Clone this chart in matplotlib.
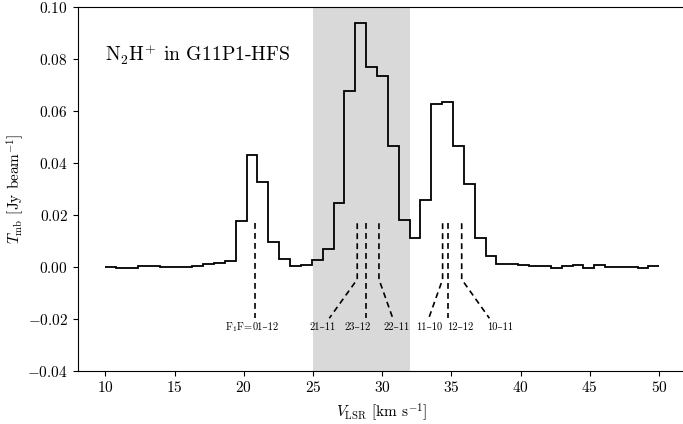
import numpy as np
import matplotlib
matplotlib.use("Agg")
import matplotlib.pyplot as plt

# ---- data -------------------------------------------------------------
# channel edges (km/s)
edges = [10.00, 10.79, 11.57, 12.36, 13.14, 13.93, 14.71, 15.50, 16.28, 17.07,
         17.85, 18.64, 19.42, 20.21, 20.99, 21.78, 22.56, 23.35, 24.13, 24.92,
         25.70, 26.49, 27.27, 28.06, 28.84, 29.63, 30.41, 31.20, 31.98, 32.77,
         33.55, 34.34, 35.12, 35.91, 36.69, 37.48, 38.26, 39.05, 39.83, 40.62,
         41.40, 42.19, 42.97, 43.76, 44.54, 45.33, 46.11, 46.90, 47.68, 48.47,
         49.25, 50.04]
# brightness per channel
tmb = [0.0000, -0.0004, -0.0004, 0.0003, 0.0003, -0.0002, -0.0002, -0.0002, 0.0003, 0.0011,
       0.0014, 0.0024, 0.0178, 0.0430, 0.0328, 0.0095, 0.0030, 0.0005, 0.0007, 0.0025,
       0.0069, 0.0245, 0.0679, 0.0938, 0.0771, 0.0737, 0.0467, 0.0180, 0.0112, 0.0259,
       0.0626, 0.0636, 0.0466, 0.0320, 0.0112, 0.0042, 0.0011, 0.0010, 0.0008, 0.0005,
       0.0004, -0.0004, 0.0002, 0.0008, -0.0004, 0.0006, 0.0001, 0.0000, -0.0002, -0.0004,
       0.0005]

# shaded velocity range
shade_range = (25.0, 32.0)

# hyperfine components: velocity of marker, end of the slanted leg, label, label position
hfs_vel = [20.81, 28.20, 28.81, 29.77, 34.37, 34.79, 35.75]
hfs_end = [20.81, 26.18, 28.81, 30.77, 33.37, 34.79, 37.75]
hfs_lab = ["01–12", "21–11", "23–12", "22–11", "11–10", "12–12", "10–11"]
hfs_labx = [20.61, 25.71, 28.21, 31.06, 33.38, 35.61, 38.54]
hfs_prefix = r"F$_1$F="

title = r"N$_2$H$^{+}$ in G11P1-HFS"

# ---- style ------------------------------------------------------------
plt.rcParams["font.family"] = ["cmr10", "DejaVu Serif"]
plt.rcParams["mathtext.fontset"] = "cm"
plt.rcParams["axes.formatter.use_mathtext"] = True
plt.rcParams["axes.unicode_minus"] = True
plt.rcParams["font.size"] = 11

fig = plt.figure(figsize=(6.83, 4.24), dpi=100)
ax = fig.add_axes([0.1138, 0.1257, 0.8914, 0.8571])

ax.axvspan(shade_range[0], shade_range[1], color="#d9d9d9", lw=0, zorder=0)
ax.stairs(tmb, edges, baseline=None, color="black", lw=1.3, zorder=3)

y_top, y_bend, y_bot = 0.0168, -0.0048, -0.0198
for i, (v, ve, lab, lx) in enumerate(zip(hfs_vel, hfs_end, hfs_lab, hfs_labx)):
    ax.plot([v, v, ve], [y_top, y_bend, y_bot], color="black", lw=1.2,
            ls=(0, (3.5, 2.5)), zorder=4)
    if i == 0:
        ax.text(lx + 0.05, -0.0234, lab, ha="left", va="center", fontsize=7.5)
        ax.text(lx + 0.05, -0.0234, hfs_prefix, ha="right", va="center", fontsize=7.5)
    else:
        ax.text(lx, -0.0234, lab, ha="center", va="center", fontsize=7.5)

ax.text(0.045, 0.903, title, transform=ax.transAxes, fontsize=14.2,
        ha="left", va="top")

ax.set_xlim(8, 52)
ax.set_ylim(-0.04, 0.10)
ax.set_xticks([10, 15, 20, 25, 30, 35, 40, 45, 50])
ax.set_yticks([-0.04, -0.02, 0.00, 0.02, 0.04, 0.06, 0.08, 0.10])
ax.yaxis.set_major_formatter(matplotlib.ticker.FuncFormatter(
    lambda y, p: r"$\mathdefault{%s}$" % f"{y:.2f}"))
ax.xaxis.set_major_formatter(matplotlib.ticker.FuncFormatter(
    lambda x, p: r"$\mathdefault{%d}$" % x))
ax.spines["right"].set_visible(False)
ax.set_xlabel(r"$V_{\rm LSR}$ [km s$^{-1}$]")
ax.set_ylabel(r"$T_{\rm mb}$ [Jy beam$^{-1}$]", labelpad=1)

fig.savefig("out.png", dpi=100)
